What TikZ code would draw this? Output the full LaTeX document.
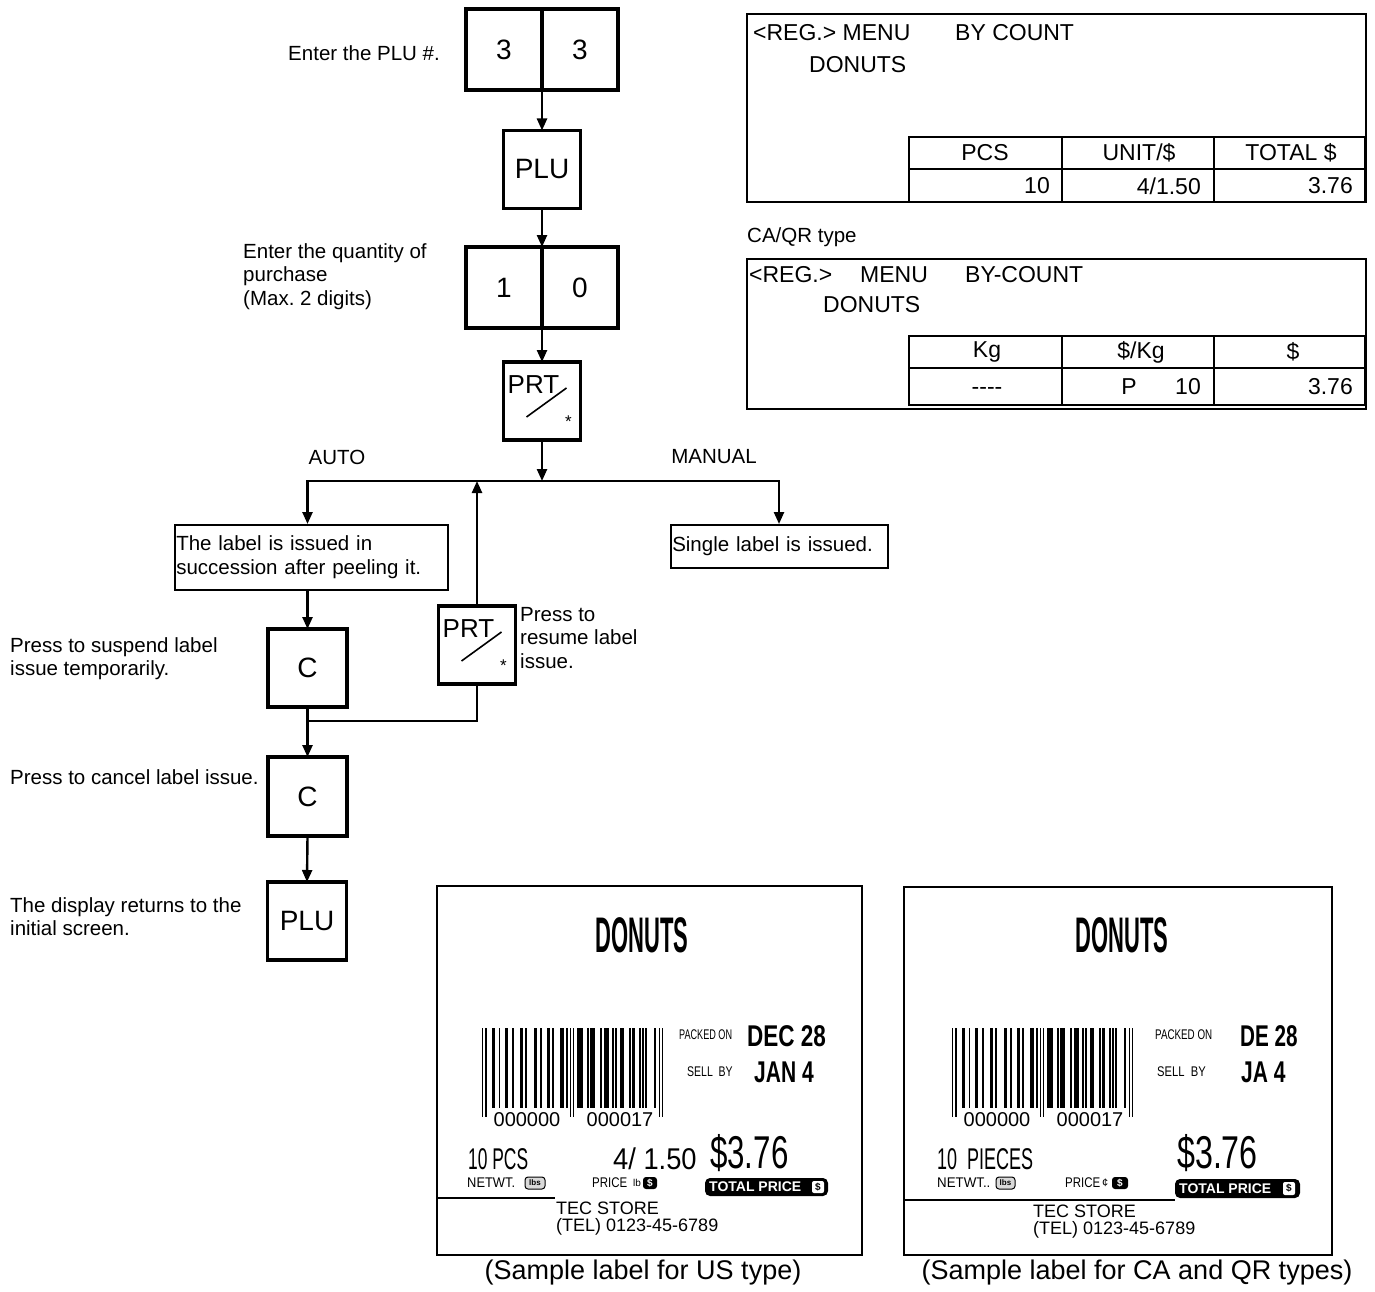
\documentclass[tikz,border=0pt]{standalone}
\usepackage{fontspec}
\setmainfont{Liberation Sans}
\usepackage{graphicx}
\usetikzlibrary{arrows.meta,positioning,calc}
\frenchspacing

\newcommand{\lblsq}[2]{\scalebox{#1}[1]{#2}}
% PRT key with slash and star
\newcommand{\prtkey}[2]{%
  \node[keybox] (#1) at (#2) {};
  \node[anchor=north west, inner sep=0pt, font=\fontsize{26}{26}\selectfont] at ([shift={(4,13)}]#1.north west) {PRT};
  \draw[line width=1.6pt] ([shift={(23,55)}]#1.north west) -- ([shift={(63,26)}]#1.north west);
  \node[inner sep=0pt, font=\fontsize{17}{17}\selectfont] at ([shift={(65,60)}]#1.north west) {*};
}
% barcode
\newcommand{\drawbarcode}[1]{%
  \begin{scope}[shift={#1}]
    \foreach \bx in {0,3.3,88,91,177,180}
      \fill (\bx,0) rectangle ++(1.4,89);
    \foreach \bx/\bw in {10/3,16.7/1.5,23/3,30/1.5,38/2.5,43/1.5,52/2.5,58/1.5,65/2.5,70/1.5,78/3.5,84/1.5,
                         95/6,105/1.5,108/5,118/1.5,122/5,130/1.5,133/2,138/4,147/1.5,150/3,157/1.5,160/1.5,163/2,172/1.5}
      \fill (\bx,0) rectangle ++(\bw,80);
    \node[bcdigits] at (45,92) {000000};
    \node[bcdigits] at (138,92) {000017};
  \end{scope}}

\begin{document}
\begin{tikzpicture}[
    x=1pt, y=-1pt,
    font=\fontsize{20.5}{23.5}\selectfont,
    keybox/.style={draw, line width=3.5pt, outer sep=0pt, inner sep=0pt, minimum width=77pt, minimum height=78pt, font=\fontsize{28}{28}\selectfont},
    tbox/.style={draw, line width=1.5pt, inner xsep=1.5pt, inner ysep=0pt, align=left, anchor=north west},
    note/.style={inner sep=0pt, align=left},
    flow/.style={-{Triangle[length=12pt,width=10pt]}, line width=2.4pt},
    conn/.style={line width=2.4pt, line cap=rect},
    dispframe/.style={line width=1.6pt},
    tline/.style={line width=2pt},
    disptxt/.style={inner sep=0pt, font=\fontsize{23}{23}\selectfont},
    lblframe/.style={line width=1.5pt},
    lbltitle/.style={inner sep=0pt, font=\bfseries\fontsize{50}{50}\selectfont},
    lbldate/.style={inner sep=0pt, anchor=west, font=\bfseries\fontsize{30}{30}\selectfont},
    lblsmall/.style={inner sep=0pt, anchor=west, font=\fontsize{14}{14}\selectfont},
    lblbig/.style={inner sep=0pt, anchor=west, font=\fontsize{30}{30}\selectfont},
    lblprice/.style={inner sep=0pt, anchor=west, font=\fontsize{46}{46}\selectfont},
    lbltiny/.style={inner sep=0pt, anchor=west, font=\fontsize{14}{14}\selectfont},
    storetxt/.style={inner sep=0pt, anchor=west, font=\fontsize{18}{18}\selectfont},
    bcdigits/.style={inner sep=0pt, font=\fontsize{20}{20}\selectfont},
    captxt/.style={inner sep=0pt, font=\fontsize{27}{27}\selectfont}
]
\useasboundingbox (0,0) rectangle (1375,1292);

% keys of the main column
\node[keybox, minimum width=76pt, minimum height=81pt] (k3a) at (504,49.5) {3};
\node[keybox, minimum width=76pt, minimum height=81pt, right=0pt of k3a] (k3b) {3};
\node[keybox] (plu1) at (542,169.5) {PLU};
\node[keybox, minimum width=76pt, minimum height=81pt] (k1a) at (504,287.5) {1};
\node[keybox, minimum width=76pt, minimum height=81pt, right=0pt of k1a] (k1b) {0};
\prtkey{prt1}{542,401}

\node[note, anchor=east] (n33) at (440,53) {Enter the PLU \#.};
\node[note, anchor=west] (n10) at (243,276.5) {Enter the quantity of\\purchase\\(Max. 2 digits)};

\draw[flow] (k3a.south east) -- (plu1.north);
\draw[flow] (plu1) -- (k1a.north east);
\draw[flow] (k1a.south east) -- (prt1.north);

% branch
\coordinate (busL) at (307.5,481);
\coordinate (busR) at (779,481);
\coordinate (busM) at (542,481);
\node[note] (auto) at (337,457) {AUTO};
\node[note] (manual) at (714,457) {MANUAL};
\draw[flow] (prt1) -- (busM);
\draw[conn] (busL) -- (busR);

\node[tbox, text width=270pt, minimum height=65pt] (autobox) at (174,524) {The label is issued in\\succession after peeling it.};
\node[tbox, text width=214pt, minimum height=43pt] (manbox) at (670,524) {Single label is issued.};
\draw[flow] (busL) -- (busL |- autobox.north);
\draw[flow] (busR) -- (busR |- manbox.north);

% auto branch
\node[keybox, minimum width=79pt] (c1) at (307.5,668) {C};
\prtkey{prt2}{477,645}
\node[keybox, minimum width=79pt, minimum height=79pt] (c2) at (307.5,796.5) {C};
\node[keybox, minimum width=79pt] (plu2) at (307,921) {PLU};
\coordinate (join) at (307.5,721);

\draw[flow] (c1.north |- autobox.south) -- (c1.north);
\draw[flow] (prt2.north) -- (prt2.north |- busL);
\draw[conn] (c1.south) -- (join);
\draw[conn] (prt2.south) |- (join);
\draw[flow] (join) -- (c2.north);
\draw[flow] (c2.south) -- (plu2.north);

\node[note, anchor=west] (nprt2) at (520,638) {Press to\\resume label\\issue.};
\node[note, anchor=west] (nc1) at (10,658.5) {Press to suspend label\\issue temporarily.};
\node[note, anchor=west] (nc2) at (10,777) {Press to cancel label issue.};
\node[note, anchor=west] (nplu2) at (10,916.5) {The display returns to the\\initial screen.};

% display, US type
\draw[dispframe] (747,14) rectangle (1366,202);
\node[disptxt, anchor=west] at (753,33) {<REG.> MENU};
\node[disptxt, anchor=west] at (955,33) {BY COUNT};
\node[disptxt, anchor=west] at (809,65) {DONUTS};
\draw[tline] (909,137) rectangle (1365,202);
\draw[tline] (909,169) -- (1365,169);
\draw[tline] (1062,137) -- (1062,202);
\draw[tline] (1214,137) -- (1214,202);
\node[disptxt] at (985,153) {PCS};
\node[disptxt] at (1139,153) {UNIT/\$};
\node[disptxt] at (1291,153) {TOTAL \$};
\node[disptxt, anchor=east] at (1050,186) {10};
\node[disptxt, anchor=east] at (1201,186) {4/1.50};
\node[disptxt, anchor=east] at (1353,186) {3.76};

% display, CA/QR type
\node[note, anchor=west] at (747,237) {CA/QR type};
\draw[dispframe] (747,259) rectangle (1366,409);
\node[disptxt, anchor=west] at (749,275) {<REG.>};
\node[disptxt, anchor=west] at (860,275) {MENU};
\node[disptxt, anchor=west] at (965,275) {BY-COUNT};
\node[disptxt, anchor=west] at (823,305) {DONUTS};
\draw[tline] (909,336) rectangle (1365,405);
\draw[tline] (909,368) -- (1365,368);
\draw[tline] (1062,336) -- (1062,405);
\draw[tline] (1214,336) -- (1214,405);
\node[disptxt] at (987,352) {Kg};
\node[disptxt] at (1141,352) {\$/Kg};
\node[disptxt] at (1293,352) {\$};
\node[disptxt] at (987,391) {-{}-{}-{}-};
\node[disptxt] at (1129,387) {P};
\node[disptxt, anchor=east] at (1201,387) {10};
\node[disptxt, anchor=east] at (1353,387) {3.76};

% sample label, US type
\begin{scope}[shift={(437,886)}]
  \draw[lblframe] (0,0) rectangle (425,369);
  \node[lbltitle] at (205,49) {\lblsq{0.44}{DONUTS}};
  \drawbarcode{(45,142)}
  \node[lblsmall] at (242,149) {\lblsq{0.65}{PACKED ON}};
  \node[lbldate] at (310,150) {\lblsq{0.75}{DEC 28}};
  \node[lblsmall] at (250,186) {\lblsq{0.75}{SELL\ \ BY}};
  \node[lbldate] at (317,186) {\lblsq{0.7}{JAN 4}};
  \node[lblbig] at (31,273) {\lblsq{0.58}{10 PCS}};
  \node[lblbig] at (176,273) {\lblsq{0.91}{4/ 1.50}};
  \node[lblprice] at (273,267) {\lblsq{0.68}{\$3.76}};
  \node[lbltiny] at (30,297) {\lblsq{0.92}{NETWT.}};
  \draw[line width=1pt, rounded corners=3pt, fill=black!15] (88,291) rectangle (108,303);
  \node[inner sep=0pt, font=\bfseries\fontsize{8}{8}\selectfont] at (98,297) {lbs};
  \node[lbltiny] at (155,297) {\lblsq{0.82}{PRICE}};
  \node[lbltiny, font=\fontsize{10}{10}\selectfont] at (196,297) {lb};
  \fill[rounded corners=3pt] (206,291) rectangle (220,303);
  \node[inner sep=0pt, text=white, font=\bfseries\fontsize{10}{10}\selectfont] at (213,297) {\$};
  \fill[rounded corners=5pt] (268,292) rectangle (391,310);
  \node[inner sep=0pt, anchor=west, text=white, font=\bfseries\fontsize{14}{14}\selectfont] at (272,301) {TOTAL PRICE};
  \fill[white, rounded corners=2pt] (375,295) rectangle (387,307);
  \node[inner sep=0pt, font=\bfseries\fontsize{10}{10}\selectfont] at (381,301) {\$};
  \draw[lblframe] (0,312) -- (118,312);
  \node[storetxt] at (119,322) {TEC STORE};
  \node[storetxt] at (119,341) {(TEL) 0123-45-6789};
\end{scope}
\node[captxt] (capus) at (643,1273) {(Sample label for US type)};

% sample label, CA and QR types
\begin{scope}[shift={(904,887)}]
  \draw[lblframe] (0,0) rectangle (428,368);
  \node[lbltitle] at (218,48) {\lblsq{0.44}{DONUTS}};
  \drawbarcode{(48,141)}
  \node[lblsmall] at (251,148) {\lblsq{0.7}{PACKED ON}};
  \node[lbldate] at (336,149) {\lblsq{0.69}{DE 28}};
  \node[lblsmall] at (253,185) {\lblsq{0.8}{SELL\ \ BY}};
  \node[lbldate] at (337,185) {\lblsq{0.7}{JA 4}};
  \node[lblbig] at (33,272) {\lblsq{0.6}{10\ \ PIECES}};
  \node[lblprice] at (273,266) {\lblsq{0.7}{\$3.76}};
  \node[lbltiny] at (33,296) {\lblsq{0.95}{NETWT..}};
  \draw[line width=1pt, rounded corners=3pt, fill=black!15] (92,290) rectangle (111,302);
  \node[inner sep=0pt, font=\bfseries\fontsize{8}{8}\selectfont] at (101.5,296) {lbs};
  \node[lbltiny] at (161,296) {\lblsq{0.82}{PRICE}};
  \node[lbltiny, font=\fontsize{11}{11}\selectfont] at (198,296) {¢};
  \fill[rounded corners=3pt] (208,290) rectangle (224,302);
  \node[inner sep=0pt, text=white, font=\bfseries\fontsize{10}{10}\selectfont] at (216,296) {\$};
  \fill[rounded corners=5pt] (271,292) rectangle (396,311);
  \node[inner sep=0pt, anchor=west, text=white, font=\bfseries\fontsize{14}{14}\selectfont] at (275,301.5) {TOTAL PRICE};
  \fill[white, rounded corners=2pt] (379,295) rectangle (391,308);
  \node[inner sep=0pt, font=\bfseries\fontsize{10}{10}\selectfont] at (385,301.5) {\$};
  \draw[lblframe] (0,313) -- (271,313);
  \node[storetxt] at (129,324) {TEC STORE};
  \node[storetxt] at (129,343) {(TEL) 0123-45-6789};
\end{scope}
\node[captxt] (capca) at (1137,1273) {(Sample label for CA and QR types)};
\end{tikzpicture}
\end{document}
